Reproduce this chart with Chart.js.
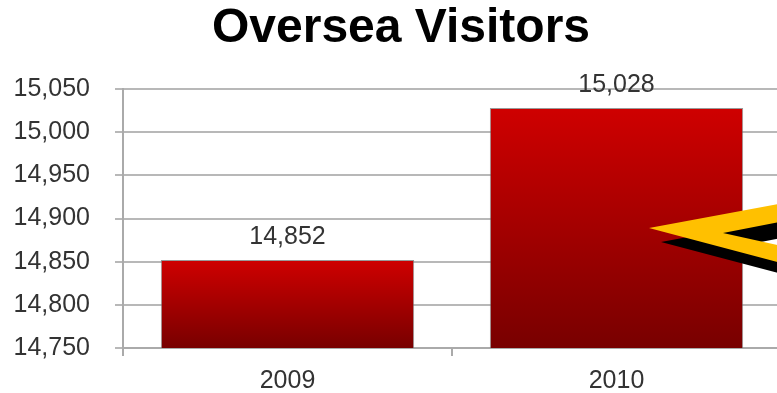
<!DOCTYPE html>
<html lang="en">
<head>
    <meta charset="UTF-8">
    <title>Oversea Visitors</title>
    <script src="https://cdn.jsdelivr.net/npm/chart.js"></script>
    <style>
        html, body { margin: 0; padding: 0; background: #fff; overflow: hidden; }
        #caixa { width: 802px; height: 393px; }
    </style>
</head>
<body>
    <div id="caixa">
        <canvas id="grafico" width="802" height="393"></canvas>
    </div>
<script>
    // dados do grafico
    const titulo = 'Oversea Visitors';
    const anos = ['2009', '2010'];
    const visitantes = [14852, 15028];
    const eixoMin = 14750;
    const eixoMax = 15050;
    const eixoPasso = 50;

    const fonte = "'Liberation Sans', Arial, sans-serif";

    function formatar(v) {
        return Number(v).toLocaleString('en-US');
    }

    // degrade vermelho de cada barra, do topo ate a base
    function corBarra(ctx) {
        const chart = ctx.chart;
        const area = chart.chartArea;
        if (!area || ctx.raw === undefined) return '#b00000';
        const topo = chart.scales.y.getPixelForValue(ctx.raw);
        const g = chart.ctx.createLinearGradient(0, topo, 0, area.bottom);
        g.addColorStop(0, '#cf0000');
        g.addColorStop(1, '#780000');
        return g;
    }

    // titulo centralizado no canvas inteiro
    const cabecalho = {
        id: 'cabecalho',
        afterDraw(chart) {
            const c = chart.ctx;
            c.save();
            c.font = 'bold 48px ' + fonte;
            c.fillStyle = '#000';
            c.textAlign = 'center';
            c.textBaseline = 'middle';
            c.fillText(titulo, chart.width / 2, 29);
            c.restore();
        }
    };

    // numero acima de cada barra
    const rotulos = {
        id: 'rotulos',
        afterDatasetsDraw(chart) {
            const c = chart.ctx;
            const meta = chart.getDatasetMeta(0);
            c.save();
            c.font = '25px ' + fonte;
            c.fillStyle = '#333';
            c.textAlign = 'center';
            c.textBaseline = 'bottom';
            meta.data.forEach((barra, i) => {
                c.fillText(formatar(visitantes[i]), barra.x, barra.y - 10);
            });
            c.restore();
        }
    };

    // seta amarela com sombra no canto direito
    const seta = {
        id: 'seta',
        afterDraw(chart) {
            const c = chart.ctx;
            const pontos = [[800, 200], [649, 228], [800, 268], [800, 250], [723, 233], [800, 218]];
            function desenhar(dx, dy, cor) {
                c.beginPath();
                pontos.forEach((p, i) => {
                    if (i === 0) c.moveTo(p[0] + dx, p[1] + dy);
                    else c.lineTo(p[0] + dx, p[1] + dy);
                });
                c.closePath();
                c.fillStyle = cor;
                c.fill();
            }
            c.save();
            desenhar(12, 14, '#000');
            desenhar(0, 0, '#ffc000');
            c.restore();
        }
    };

    const ctx = document.getElementById('grafico').getContext('2d');
    const grafico = new Chart(ctx, {
        type: 'bar',
        data: {
            labels: anos,
            datasets: [{
                label: titulo,
                data: visitantes,
                backgroundColor: corBarra,
                borderColor: 'rgba(110,110,110,0.7)',
                borderWidth: 1,
                barPercentage: 0.77,
                categoryPercentage: 1
            }]
        },
        options: {
            responsive: false,
            animation: false,
            layout: { padding: { left: 0, right: 21, top: 89, bottom: 0 } },
            plugins: {
                legend: { display: false },
                tooltip: { enabled: false },
                title: { display: false }
            },
            scales: {
                x: {
                    offset: true,
                    grid: {
                        offset: true,
                        drawOnChartArea: false,
                        drawTicks: true,
                        tickLength: 8,
                        color: '#aaa',
                        lineWidth: 2
                    },
                    border: { display: true, color: '#aaa', width: 2 },
                    ticks: {
                        color: '#333',
                        padding: 10,
                        font: { family: fonte, size: 25 }
                    },
                    afterFit(scale) { scale.height = 45; }
                },
                y: {
                    min: eixoMin,
                    max: eixoMax,
                    grid: {
                        color: '#b8b8b8',
                        lineWidth: 2,
                        drawTicks: true,
                        tickLength: 8
                    },
                    border: { display: true, color: '#aaa', width: 2 },
                    ticks: {
                        stepSize: eixoPasso,
                        color: '#333',
                        padding: 25,
                        font: { family: fonte, size: 25 },
                        callback: (v) => formatar(v)
                    },
                    afterFit(scale) { scale.width = 123; }
                }
            }
        },
        plugins: [rotulos, seta, cabecalho]
    });
</script>
</body>
</html>
